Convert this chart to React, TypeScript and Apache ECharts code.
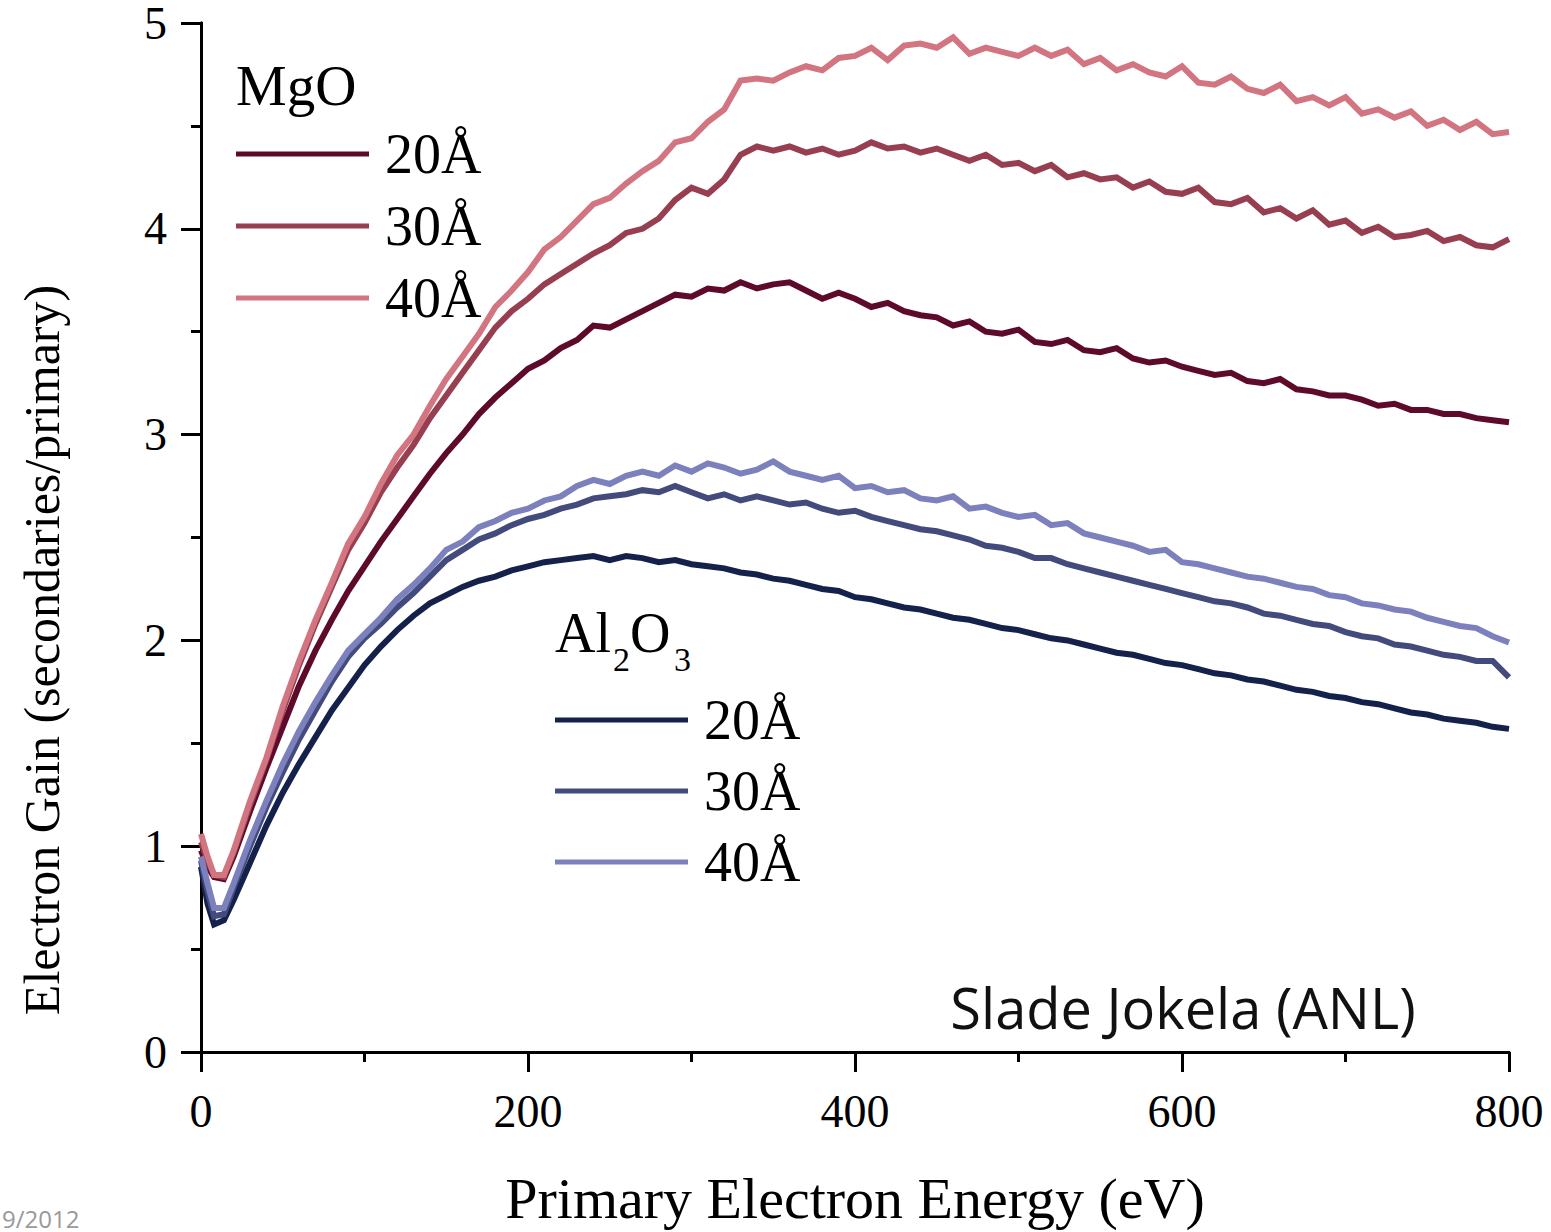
import React, { useEffect, useRef } from 'react';
import * as echarts from 'echarts';

const energy = [0, 4, 8, 14, 20, 30, 40, 50, 60, 70, 80, 90, 100, 110, 120, 130, 140, 150, 160, 170, 180, 190, 200, 210, 220, 230, 240, 250, 260, 270, 280, 290, 300, 310, 320, 330, 340, 350, 360, 370, 380, 390, 400, 410, 420, 430, 440, 450, 460, 470, 480, 490, 500, 510, 520, 530, 540, 550, 560, 570, 580, 590, 600, 610, 620, 630, 640, 650, 660, 670, 680, 690, 700, 710, 720, 730, 740, 750, 760, 770, 780, 790, 800];

const mgo20 = [0.98, 0.90, 0.85, 0.84, 0.95, 1.17, 1.38, 1.58, 1.78, 1.95, 2.10, 2.24, 2.36, 2.48, 2.59, 2.70, 2.81, 2.91, 3.00, 3.10, 3.18, 3.25, 3.32, 3.36, 3.42, 3.46, 3.53, 3.52, 3.56, 3.60, 3.64, 3.68, 3.67, 3.71, 3.70, 3.74, 3.71, 3.73, 3.74, 3.70, 3.66, 3.69, 3.66, 3.62, 3.64, 3.60, 3.58, 3.57, 3.53, 3.55, 3.50, 3.49, 3.51, 3.45, 3.44, 3.46, 3.41, 3.40, 3.42, 3.37, 3.35, 3.36, 3.33, 3.31, 3.29, 3.30, 3.26, 3.25, 3.27, 3.22, 3.21, 3.19, 3.19, 3.17, 3.14, 3.15, 3.12, 3.12, 3.10, 3.10, 3.08, 3.07, 3.06];
const mgo30 = [1.02, 0.93, 0.86, 0.85, 0.97, 1.20, 1.42, 1.66, 1.88, 2.08, 2.26, 2.44, 2.57, 2.72, 2.84, 2.95, 3.08, 3.19, 3.30, 3.41, 3.52, 3.60, 3.66, 3.73, 3.78, 3.83, 3.88, 3.92, 3.98, 4.00, 4.05, 4.14, 4.20, 4.17, 4.24, 4.36, 4.40, 4.38, 4.40, 4.37, 4.39, 4.36, 4.38, 4.42, 4.39, 4.40, 4.37, 4.39, 4.36, 4.33, 4.36, 4.31, 4.32, 4.28, 4.31, 4.25, 4.27, 4.24, 4.25, 4.20, 4.23, 4.18, 4.17, 4.20, 4.13, 4.12, 4.15, 4.08, 4.10, 4.05, 4.09, 4.02, 4.04, 3.98, 4.01, 3.96, 3.97, 3.99, 3.94, 3.96, 3.92, 3.91, 3.95];
const mgo40 = [1.06, 0.95, 0.86, 0.86, 0.98, 1.22, 1.43, 1.68, 1.90, 2.10, 2.28, 2.47, 2.60, 2.76, 2.90, 3.00, 3.14, 3.27, 3.38, 3.49, 3.62, 3.70, 3.79, 3.90, 3.96, 4.04, 4.12, 4.15, 4.22, 4.28, 4.33, 4.42, 4.44, 4.52, 4.58, 4.72, 4.73, 4.72, 4.76, 4.79, 4.77, 4.83, 4.84, 4.88, 4.82, 4.89, 4.90, 4.88, 4.93, 4.85, 4.88, 4.86, 4.84, 4.88, 4.84, 4.87, 4.80, 4.83, 4.77, 4.80, 4.76, 4.74, 4.79, 4.71, 4.70, 4.74, 4.68, 4.66, 4.70, 4.62, 4.64, 4.60, 4.64, 4.56, 4.58, 4.54, 4.57, 4.50, 4.53, 4.48, 4.52, 4.46, 4.47];
const al20 = [0.90, 0.72, 0.62, 0.64, 0.74, 0.92, 1.10, 1.26, 1.40, 1.53, 1.66, 1.77, 1.88, 1.97, 2.05, 2.12, 2.18, 2.22, 2.26, 2.29, 2.31, 2.34, 2.36, 2.38, 2.39, 2.40, 2.41, 2.39, 2.41, 2.40, 2.38, 2.39, 2.37, 2.36, 2.35, 2.33, 2.32, 2.30, 2.29, 2.27, 2.25, 2.24, 2.21, 2.20, 2.18, 2.16, 2.15, 2.13, 2.11, 2.10, 2.08, 2.06, 2.05, 2.03, 2.01, 2.00, 1.98, 1.96, 1.94, 1.93, 1.91, 1.89, 1.88, 1.86, 1.84, 1.83, 1.81, 1.80, 1.78, 1.76, 1.75, 1.73, 1.72, 1.70, 1.69, 1.67, 1.65, 1.64, 1.62, 1.61, 1.60, 1.58, 1.57];
const al30 = [0.93, 0.78, 0.66, 0.67, 0.80, 1.00, 1.19, 1.36, 1.52, 1.66, 1.80, 1.92, 2.01, 2.08, 2.16, 2.23, 2.31, 2.39, 2.44, 2.49, 2.52, 2.56, 2.59, 2.61, 2.64, 2.66, 2.69, 2.70, 2.71, 2.73, 2.72, 2.75, 2.72, 2.69, 2.71, 2.68, 2.70, 2.68, 2.66, 2.67, 2.64, 2.62, 2.63, 2.60, 2.58, 2.56, 2.54, 2.53, 2.51, 2.49, 2.46, 2.45, 2.43, 2.40, 2.40, 2.37, 2.35, 2.33, 2.31, 2.29, 2.27, 2.25, 2.23, 2.21, 2.19, 2.18, 2.16, 2.13, 2.12, 2.10, 2.08, 2.07, 2.04, 2.02, 2.01, 1.98, 1.97, 1.95, 1.93, 1.92, 1.90, 1.90, 1.82];
const al40 = [0.95, 0.82, 0.70, 0.70, 0.82, 1.03, 1.22, 1.40, 1.56, 1.70, 1.83, 1.95, 2.03, 2.11, 2.20, 2.27, 2.35, 2.44, 2.48, 2.55, 2.58, 2.62, 2.64, 2.68, 2.70, 2.75, 2.78, 2.76, 2.80, 2.82, 2.80, 2.85, 2.82, 2.86, 2.84, 2.81, 2.83, 2.87, 2.82, 2.80, 2.78, 2.80, 2.74, 2.75, 2.72, 2.73, 2.69, 2.68, 2.70, 2.64, 2.65, 2.62, 2.60, 2.61, 2.56, 2.57, 2.52, 2.50, 2.48, 2.46, 2.43, 2.44, 2.38, 2.37, 2.35, 2.33, 2.31, 2.30, 2.28, 2.26, 2.25, 2.22, 2.21, 2.18, 2.17, 2.15, 2.14, 2.11, 2.09, 2.07, 2.06, 2.02, 1.99];

const seriesNames = ['MgO 20Å', 'MgO 30Å', 'MgO 40Å', 'Al2O3 20Å', 'Al2O3 30Å', 'Al2O3 40Å'];
const seriesValues = [mgo20, mgo30, mgo40, al20, al30, al40];
const seriesColors = ['#5e0a2a', '#973f50', '#d27580', '#14214b', '#434b7d', '#7c81bd'];

const xTicks = [0, 200, 400, 600, 800];
const yTicks = [0, 1, 2, 3, 4, 5];

const SERIF = '"Liberation Serif", "Times New Roman", serif';
const SANS = '"Open Sans", "Noto Sans", sans-serif';

export default function App() {
  const ref = useRef<HTMLDivElement>(null);
  useEffect(() => {
    if (!ref.current) return;
    const chart = echarts.init(ref.current, undefined, { renderer: 'svg' });
    const series = seriesNames.map((name, i) => ({
      name,
      type: 'line',
      xAxisIndex: 0,
      yAxisIndex: 0,
      data: energy.map((e, j) => [e, seriesValues[i][j]]),
      showSymbol: false,
      symbol: 'none',
      color: seriesColors[i],
      lineStyle: { width: 6, color: seriesColors[i], join: 'miter' },
      z: 3,
    }));
    const axisLine = { show: true, lineStyle: { color: '#000', width: 3 } };
    const legendCommon = {
      orient: 'vertical',
      icon: 'rect',
      itemWidth: 133,
      itemHeight: 5,
      padding: 0,
      selectedMode: false,
      formatter: (n: string) => n.replace(/^(MgO|Al2O3) /, ''),
      textStyle: { fontFamily: SERIF, fontSize: 56, color: '#000', lineHeight: 60, padding: [0, 0, 0, 11] },
    };
    chart.setOption({
      animation: false,
      backgroundColor: '#fff',
      grid: { left: 201, top: 23, width: 1308, height: 1034, containLabel: false },
      xAxis: [
        {
          type: 'value',
          position: 'bottom',
          min: xTicks[0],
          max: xTicks[xTicks.length - 1],
          interval: 200,
          axisLine,
          axisTick: { show: true, inside: false, length: 20, lineStyle: { color: '#000', width: 3 } },
          minorTick: { show: true, splitNumber: 2, length: 10, lineStyle: { color: '#000', width: 3 } },
          splitLine: { show: false },
          axisLabel: { margin: 36, fontFamily: SERIF, fontSize: 46, color: '#000' },
          name: 'Primary Electron Energy (eV)',
          nameLocation: 'middle',
          nameGap: 118,
          nameTextStyle: { fontFamily: SERIF, fontSize: 58, lineHeight: 56, color: '#000' },
        },
        {
          type: 'value',
          position: 'top',
          min: 0,
          max: 800,
          interval: 100,
          axisLine,
          axisTick: { show: true, inside: true, length: 10, lineStyle: { color: '#000', width: 3 } },
          axisLabel: { show: false },
          splitLine: { show: false },
        },
      ],
      yAxis: [
        {
          type: 'value',
          position: 'left',
          min: yTicks[0],
          max: yTicks[yTicks.length - 1],
          interval: 1,
          axisLine,
          axisTick: { show: true, inside: false, length: 20, lineStyle: { color: '#000', width: 3 } },
          minorTick: { show: true, splitNumber: 2, length: 10, lineStyle: { color: '#000', width: 3 } },
          splitLine: { show: false },
          axisLabel: { margin: 34, fontFamily: SERIF, fontSize: 46, lineHeight: 44, color: '#000' },
        },
        {
          type: 'value',
          position: 'right',
          min: 0,
          max: 5,
          interval: 1,
          axisLine,
          axisTick: { show: true, inside: true, length: 20, lineStyle: { color: '#000', width: 3 } },
          minorTick: { show: true, splitNumber: 2, length: 10, lineStyle: { color: '#000', width: 3 } },
          axisLabel: { show: false },
          splitLine: { show: false },
        },
      ],
      legend: [
        { ...legendCommon, left: 236, top: 124, itemGap: 12, data: seriesNames.slice(0, 3) },
        { ...legendCommon, left: 555, top: 690, itemGap: 11, data: seriesNames.slice(3) },
      ],
      graphic: [
        { type: 'text', x: 236, y: 85, style: { text: 'MgO', fontFamily: SERIF, fontSize: 57, fill: '#000', align: 'left', verticalAlign: 'middle' } },
        { type: 'text', x: 555, y: 633, style: { text: 'Al', fontFamily: SERIF, fontSize: 56, fill: '#000', align: 'left', verticalAlign: 'middle' } },
        { type: 'text', x: 613, y: 659, style: { text: '2', fontFamily: SERIF, fontSize: 34, fill: '#000', align: 'left', verticalAlign: 'middle' } },
        { type: 'text', x: 630, y: 633, style: { text: 'O', fontFamily: SERIF, fontSize: 56, fill: '#000', align: 'left', verticalAlign: 'middle' } },
        { type: 'text', x: 674, y: 659, style: { text: '3', fontFamily: SERIF, fontSize: 34, fill: '#000', align: 'left', verticalAlign: 'middle' } },
        { type: 'text', x: 42, y: 650, rotation: Math.PI / 2, style: { text: 'Electron Gain (secondaries/primary)', fontFamily: SERIF, fontSize: 50, fill: '#000', align: 'center', verticalAlign: 'middle' } },
        { type: 'text', x: 1183, y: 1007, style: { text: 'Slade Jokela (ANL)', fontFamily: SANS, fontSize: 56, fill: '#111', align: 'center', verticalAlign: 'middle' } },
        { type: 'text', x: 2, y: 1218, style: { text: '9/2012', fontFamily: SANS, fontSize: 24, lineHeight: 24, fill: '#999', align: 'left', verticalAlign: 'middle' } },
      ],
      series,
    });
    return () => chart.dispose();
  }, []);
  return (
    <div style={{ position: 'fixed', left: 0, top: 0, width: 1551, height: 1232, overflow: 'hidden' }}>
      <div ref={ref} style={{ width: 1551, height: 1232, overflow: 'hidden' }} />
    </div>
  );
}
